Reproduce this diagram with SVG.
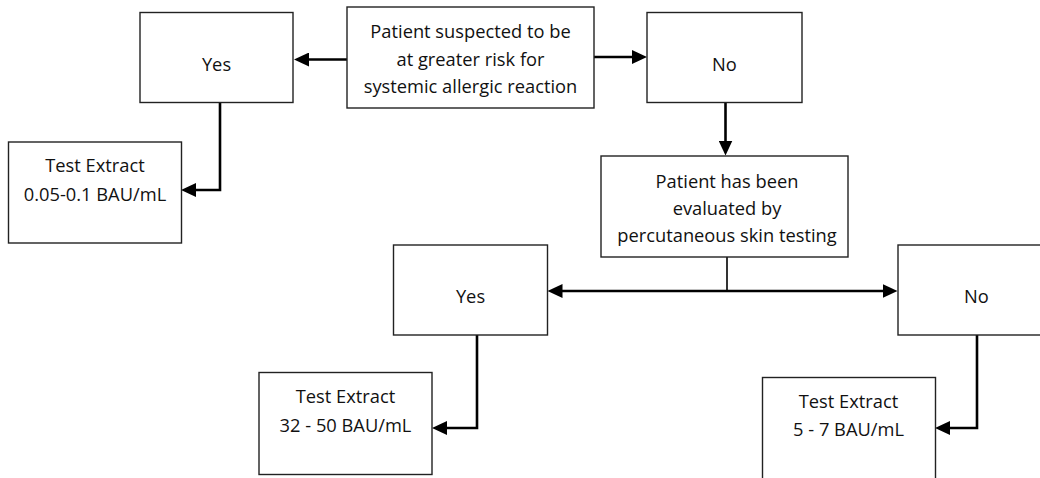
<svg xmlns="http://www.w3.org/2000/svg" width="1040" height="478" viewBox="0 0 1040 478">
<style>
.box{fill:#fff;stroke:#222;stroke-width:1.4}
.t{font-family:"Open Sans","Liberation Sans",sans-serif;font-size:18.3px;fill:#111;text-anchor:middle}
.c{fill:none;stroke:#000;stroke-width:2.6}
.thin{fill:none;stroke:#000;stroke-width:1.6}
</style>
<defs>
<marker id="ah" markerUnits="userSpaceOnUse" markerWidth="16" markerHeight="14" refX="10" refY="7" orient="auto">
<path d="M0,0 L15,7 L0,14 Z" fill="#000"/>
</marker>
</defs>
<rect width="1040" height="478" fill="#fff"/>
<g id="connectors">
<line class="c" x1="347" y1="59.5" x2="299" y2="59.5" marker-end="url(#ah)"/>
<line class="c" x1="594" y1="57" x2="642" y2="57" marker-end="url(#ah)"/>
<line class="c" x1="725.5" y1="102" x2="725.5" y2="150.5" marker-end="url(#ah)"/>
<polyline class="c" points="220,102 220,190 186,190" marker-end="url(#ah)"/>
<line class="thin" x1="727" y1="257" x2="727" y2="291"/>
<line class="c" x1="727" y1="291" x2="892.5" y2="291" marker-end="url(#ah)"/>
<line class="c" x1="727" y1="291" x2="552.5" y2="291" marker-end="url(#ah)"/>
<polyline class="c" points="477,335 477,428 437,428" marker-end="url(#ah)"/>
<polyline class="c" points="977,335 977,428 940,428" marker-end="url(#ah)"/>
</g>
<g id="start">
<rect class="box" x="347" y="7" width="247" height="101"/>
<text class="t" x="470.5" y="37.5">Patient suspected to be</text>
<text class="t" x="470.5" y="65.5">at greater risk for</text>
<text class="t" x="470.5" y="92.5">systemic allergic reaction</text>
</g>
<g id="yes1">
<rect class="box" x="140" y="12.5" width="153" height="90"/>
<text class="t" x="216.5" y="71">Yes</text>
</g>
<g id="no1">
<rect class="box" x="647" y="12.5" width="155" height="90"/>
<text class="t" x="724.5" y="71">No</text>
</g>
<g id="extract1">
<rect class="box" x="8.5" y="142" width="173" height="101"/>
<text class="t" x="95" y="171.5">Test Extract</text>
<text class="t" x="95" y="200.5">0.05-0.1 BAU/mL</text>
</g>
<g id="evaluated">
<rect class="box" x="601" y="156" width="247" height="101"/>
<text class="t" x="727" y="187.5">Patient has been</text>
<text class="t" x="727" y="215">evaluated by</text>
<text class="t" x="727" y="242">percutaneous skin testing</text>
</g>
<g id="yes2">
<rect class="box" x="393.5" y="245" width="154" height="90"/>
<text class="t" x="470.5" y="302.5">Yes</text>
</g>
<g id="no2">
<rect class="box" x="898" y="245" width="157" height="90"/>
<text class="t" x="976.5" y="302.5">No</text>
</g>
<g id="extract2">
<rect class="box" x="259" y="372.5" width="173" height="102"/>
<text class="t" x="345.5" y="403">Test Extract</text>
<text class="t" x="345.5" y="431.5">32 - 50 BAU/mL</text>
</g>
<g id="extract3">
<rect class="box" x="762.5" y="377.5" width="173" height="102"/>
<text class="t" x="848.5" y="407.5">Test Extract</text>
<text class="t" x="848.5" y="436">5 - 7 BAU/mL</text>
</g>
</svg>
